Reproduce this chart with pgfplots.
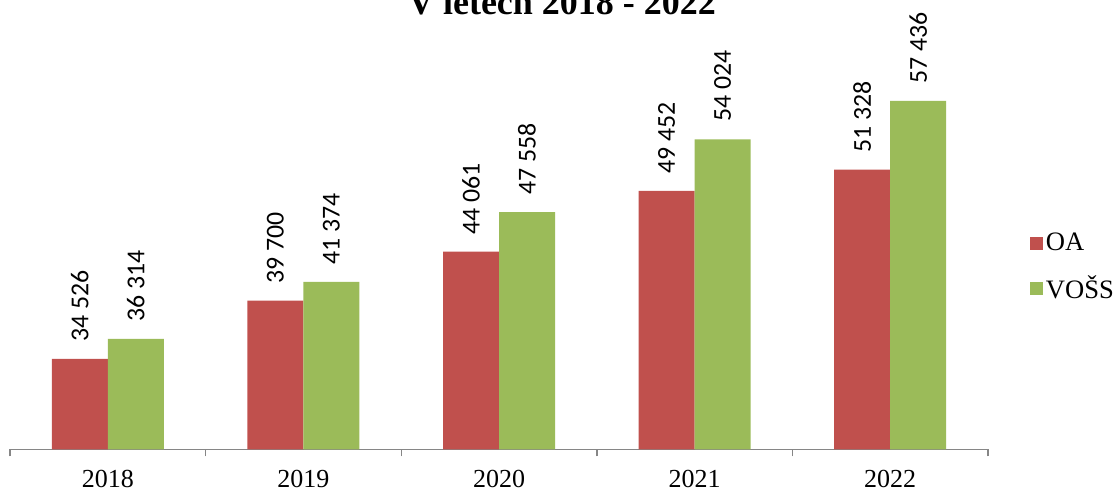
\documentclass[border=0pt]{standalone}
\usepackage{fontspec}
\setmainfont{Liberation Serif}
\newfontfamily\carlito{Carlito}
\usepackage{pgfplots}
\pgfplotsset{compat=1.18}
\definecolor{oared}{HTML}{C0504D}
\definecolor{vossgreen}{HTML}{9BBB59}
\definecolor{axgray}{HTML}{868686}
\begin{document}
\begin{tikzpicture}
\begin{axis}[
  at={(5pt,21.25pt)}, anchor=south west,
  scale only axis, width=489pt, height=224.75pt,
  xmin=-0.5, xmax=4.5, ymin=26490, ymax=66400,
  ybar=0pt, bar width=28pt,
  axis x line*=bottom, axis y line=none,
  x axis line style={axgray, line width=0.7pt, -},
  xtick={0,1,2,3,4},
  xticklabels={2018,2019,2020,2021,2022},
  major x tick style={draw=none},
  minor xtick={-0.5,0.5,1.5,2.5,3.5,4.5},
  minor x tick style={axgray, line width=0.7pt},
  minor tick length=3.5pt,
  tick align=outside,
  xticklabel style={font=\fontsize{13}{14}\selectfont, yshift=-2.8pt},
  nodes near coords,
  every node near coord/.append style={font=\carlito\fontsize{12.9}{15}\selectfont,
    rotate=90, anchor=west, inner xsep=8.5pt, inner ysep=0pt, black,
    /pgf/number format/.cd, fixed, precision=0, 1000 sep={\ }, assume math mode=true},
  legend style={draw=none, fill=none, at={(1.043,0.405)}, anchor=west,
    font=\fontsize{13.3}{15}\selectfont, inner sep=0pt, row sep=8.5pt,
    nodes={inner sep=1.2pt}},
  legend cell align=left,
  legend image code/.code={\fill[#1] (0pt,-3.25pt) rectangle (6.5pt,3.25pt);},
]
\addplot[fill=oared, draw=none] coordinates {(0,34526) (1,39700) (2,44061) (3,49452) (4,51328)};
\addlegendentry{OA}
\addplot[fill=vossgreen, draw=none] coordinates {(0,36314) (1,41374) (2,47558) (3,54024) (4,57436)};
\addlegendentry{VOŠS}
\end{axis}
\node[anchor=base, font=\bfseries\fontsize{18}{21}\selectfont] at (281pt,238.5pt) {V letech 2018 - 2022};
\pgfresetboundingbox
\useasboundingbox (0,0) rectangle (559pt,246pt);
\end{tikzpicture}
\end{document}
